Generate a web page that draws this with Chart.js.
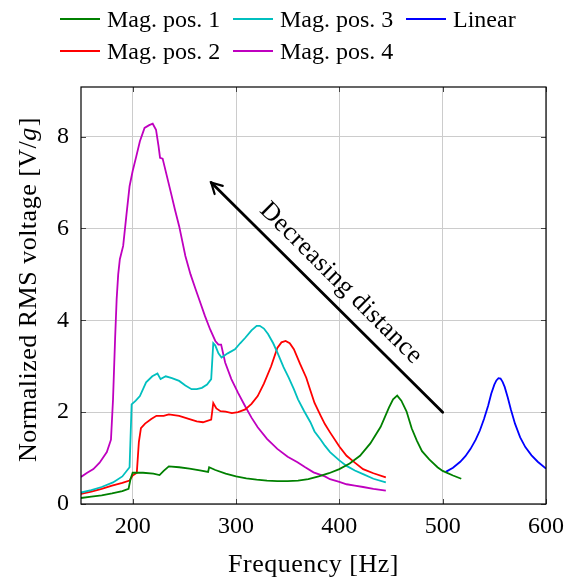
<!DOCTYPE html>
<html>
<head>
<meta charset="utf-8">
<script src="https://cdn.jsdelivr.net/npm/chart.js@4.4.1/dist/chart.umd.min.js"></script>
<style>
  html, body { margin: 0; padding: 0; background: #fff; }
  #wrap { position: relative; width: 572px; height: 579px; }
  #legend {
    position: absolute; left: 60px; top: 3px;
    display: grid; grid-template-columns: 173px 173px 140px; grid-auto-rows: 32px;
    font-family: 'Liberation Serif', serif; font-size: 24px; color: #000;
  }
  .item { display: flex; align-items: center; white-space: pre; }
  .swatch { width: 40px; height: 2px; margin-right: 7px; }
</style>
</head>
<body>
<div id="wrap">
  <canvas id="chart" width="572" height="579"></canvas>
  <div id="legend"></div>
</div>
<script>
// frequency axis ticks and value axis ticks
const xTicks = [200, 300, 400, 500, 600];
const yTicks = [0, 2, 4, 6, 8];

// Mag. pos. 1
const pos1Freq = [150, 160, 170, 180, 190, 196, 198, 200, 210, 220, 226, 230, 235, 245, 255, 265, 273, 274, 280, 290, 300, 310, 320, 330, 340, 350, 360, 370, 380, 390, 400, 410, 420, 430, 440, 448, 452, 456, 460, 465, 470, 475, 480, 487, 495, 500, 510, 518];
const pos1Val = [0.13, 0.16, 0.19, 0.23, 0.28, 0.33, 0.55, 0.68, 0.68, 0.66, 0.63, 0.72, 0.82, 0.80, 0.77, 0.73, 0.70, 0.80, 0.74, 0.66, 0.60, 0.56, 0.53, 0.51, 0.50, 0.50, 0.51, 0.54, 0.60, 0.67, 0.76, 0.88, 1.05, 1.32, 1.68, 2.10, 2.28, 2.36, 2.25, 2.02, 1.65, 1.38, 1.15, 0.97, 0.80, 0.72, 0.62, 0.55];

// Mag. pos. 2
const pos2Freq = [150, 160, 170, 180, 190, 197, 200, 204, 206, 208, 212, 218, 223, 230, 235, 245, 255, 262, 268, 276, 278, 281, 285, 290, 296, 302, 309, 315, 321, 327, 334, 340, 344, 348, 352, 356, 362, 368, 372, 376, 382, 386, 391, 400, 407, 415, 423, 433, 445];
const pos2Val = [0.22, 0.27, 0.33, 0.40, 0.46, 0.51, 0.62, 0.68, 1.35, 1.65, 1.75, 1.85, 1.92, 1.92, 1.95, 1.92, 1.85, 1.80, 1.78, 1.84, 2.20, 2.08, 2.02, 2.01, 1.98, 2.00, 2.06, 2.18, 2.35, 2.62, 3.00, 3.40, 3.52, 3.55, 3.50, 3.37, 3.05, 2.75, 2.47, 2.20, 1.92, 1.74, 1.56, 1.25, 1.05, 0.90, 0.76, 0.67, 0.58];

// Mag. pos. 3
const pos3Freq = [150, 160, 170, 181, 190, 197, 199, 203, 207, 213, 219, 224, 227, 232, 238, 245, 251, 257, 262, 267, 272, 276, 278, 280, 283, 286, 292, 299, 304, 309, 315, 320, 323, 327, 331, 336, 340, 346, 351, 356, 360, 366, 372, 376, 382, 386, 391, 400, 407, 415, 423, 433, 445];
const pos3Val = [0.25, 0.30, 0.37, 0.47, 0.60, 0.80, 2.17, 2.25, 2.35, 2.65, 2.78, 2.84, 2.72, 2.78, 2.74, 2.68, 2.58, 2.50, 2.50, 2.53, 2.60, 2.72, 3.50, 3.45, 3.28, 3.19, 3.28, 3.37, 3.50, 3.62, 3.78, 3.88, 3.88, 3.82, 3.70, 3.50, 3.30, 2.98, 2.75, 2.50, 2.28, 2.02, 1.78, 1.58, 1.40, 1.27, 1.13, 0.95, 0.83, 0.73, 0.65, 0.55, 0.47];

// Mag. pos. 4
const pos4Freq = [150, 156, 162, 168, 175, 179, 181, 183, 184.5, 186, 187.6, 190.8, 194, 197, 200, 203.5, 207, 211.5, 216, 219.4, 222.6, 225, 226.5, 229, 233, 237, 241, 245, 251, 256, 261, 266, 270, 275, 280, 283, 285.6, 289.5, 295.5, 302, 308.6, 315, 321, 330, 340, 350, 359.5, 367, 375, 386, 391, 400, 407, 415, 423, 433, 445];
const pos4Val = [0.59, 0.68, 0.76, 0.90, 1.13, 1.40, 2.28, 3.60, 4.46, 5.00, 5.33, 5.62, 6.30, 6.92, 7.25, 7.57, 7.90, 8.19, 8.25, 8.28, 8.15, 7.80, 7.54, 7.52, 7.15, 6.78, 6.40, 6.05, 5.40, 5.00, 4.67, 4.35, 4.09, 3.80, 3.55, 3.47, 3.47, 3.08, 2.72, 2.42, 2.14, 1.88, 1.67, 1.42, 1.20, 1.03, 0.91, 0.80, 0.69, 0.60, 0.54, 0.48, 0.43, 0.40, 0.37, 0.33, 0.29];

// Linear harvester
const linFreq = [503, 510, 517, 522, 527, 532, 536, 540, 544, 547, 550, 552, 554, 556, 558, 560, 563, 566, 570, 575, 580, 586, 592, 600];
const linVal = [0.70, 0.79, 0.92, 1.04, 1.20, 1.40, 1.60, 1.85, 2.14, 2.40, 2.60, 2.69, 2.74, 2.73, 2.66, 2.55, 2.32, 2.06, 1.75, 1.45, 1.24, 1.06, 0.92, 0.77];

// arrow annotation (tail -> head, in data units)
const arrowFrom = [500, 2.0];
const arrowTo = [276, 7.0];
const arrowText = 'Decreasing distance';

const FONT = "'Liberation Serif', serif";

const series = [
  { label: 'Mag. pos. 1', f: pos1Freq, v: pos1Val, color: '#008000' },
  { label: 'Mag. pos. 3', f: pos3Freq, v: pos3Val, color: '#00bfbf' },
  { label: 'Linear', f: linFreq, v: linVal, color: '#0000ff' },
  { label: 'Mag. pos. 2', f: pos2Freq, v: pos2Val, color: '#ff0000' },
  { label: 'Mag. pos. 4', f: pos4Freq, v: pos4Val, color: '#bf00bf' }
];

// html legend, 3 columns like the pgfplots one
const legendEl = document.getElementById('legend');
series.forEach(s => {
  const it = document.createElement('div');
  it.className = 'item';
  it.innerHTML = `<span class="swatch" style="background:${s.color}"></span><span>${s.label}</span>`;
  legendEl.appendChild(it);
});

const datasets = series.map(s => ({
  label: s.label,
  data: s.f.map((x, i) => ({ x, y: s.v[i] })),
  borderColor: s.color,
  borderWidth: 1.8,
  pointRadius: 0,
  tension: 0,
  fill: false
}));

const extras = {
  id: 'extras',
  afterDraw(chart) {
    const { ctx, chartArea: a, scales: { x, y } } = chart;
    ctx.save();
    // inward tick marks on all four sides
    ctx.strokeStyle = '#444';
    ctx.lineWidth = 1;
    ctx.beginPath();
    xTicks.forEach(v => {
      const px = Math.round(x.getPixelForValue(v)) + 0.5;
      ctx.moveTo(px, a.bottom); ctx.lineTo(px, a.bottom - 5);
      ctx.moveTo(px, a.top); ctx.lineTo(px, a.top + 5);
    });
    yTicks.forEach(v => {
      const py = Math.round(y.getPixelForValue(v)) + 0.5;
      ctx.moveTo(a.left, py); ctx.lineTo(a.left + 5, py);
      ctx.moveTo(a.right, py); ctx.lineTo(a.right - 5, py);
    });
    ctx.stroke();
    // axis box
    ctx.strokeStyle = '#000';
    ctx.lineWidth = 1.2;
    ctx.strokeRect(a.left, a.top, a.right - a.left, a.bottom - a.top);

    // arrow
    const x0 = x.getPixelForValue(arrowFrom[0]), y0 = y.getPixelForValue(arrowFrom[1]);
    const x1 = x.getPixelForValue(arrowTo[0]), y1 = y.getPixelForValue(arrowTo[1]);
    const ang = Math.atan2(y1 - y0, x1 - x0);
    ctx.strokeStyle = '#000';
    ctx.lineWidth = 2.8;
    ctx.lineCap = 'round';
    ctx.beginPath();
    ctx.moveTo(x0, y0); ctx.lineTo(x1, y1);
    ctx.stroke();
    ctx.lineWidth = 2.2;
    ctx.beginPath();
    ctx.moveTo(x1 - 12 * Math.cos(ang - 0.5), y1 - 12 * Math.sin(ang - 0.5));
    ctx.lineTo(x1, y1);
    ctx.lineTo(x1 - 12 * Math.cos(ang + 0.5), y1 - 12 * Math.sin(ang + 0.5));
    ctx.stroke();

    // label along the arrow
    const mx = (x0 + x1) / 2, my = (y0 + y1) / 2;
    const t = Math.atan2(y0 - y1, x0 - x1);
    ctx.translate(mx + 13 * Math.sin(t), my - 13 * Math.cos(t));
    ctx.rotate(t);
    ctx.fillStyle = '#000';
    ctx.font = `26px ${FONT}`;
    ctx.letterSpacing = '0.5px';
    ctx.textAlign = 'center';
    ctx.textBaseline = 'alphabetic';
    ctx.fillText(arrowText, 0, 0);
    ctx.restore();

    // axis titles
    ctx.save();
    ctx.fillStyle = '#000';
    ctx.font = `26px ${FONT}`;
    ctx.textAlign = 'center';
    ctx.textBaseline = 'alphabetic';
    ctx.letterSpacing = '0.5px';
    ctx.fillText('Frequency [Hz]', (a.left + a.right) / 2, 572);

    ctx.translate(36, 290);
    ctx.rotate(-Math.PI / 2);
    const p1 = 'Normalized RMS voltage [V/', p2 = 'g', p3 = ']';
    ctx.font = `26px ${FONT}`;
    const w1 = ctx.measureText(p1).width, w3 = ctx.measureText(p3).width;
    ctx.font = `italic 26px ${FONT}`;
    const w2 = ctx.measureText(p2).width;
    let sx = -(w1 + w2 + w3) / 2;
    ctx.textAlign = 'left';
    ctx.font = `26px ${FONT}`;
    ctx.fillText(p1, sx, 0);
    ctx.font = `italic 26px ${FONT}`;
    ctx.fillText(p2, sx + w1, 0);
    ctx.font = `26px ${FONT}`;
    ctx.fillText(p3, sx + w1 + w2 + 1, 0);
    ctx.restore();
  }
};

Chart.defaults.font.family = FONT;
Chart.defaults.font.size = 24;
Chart.defaults.color = '#000';

new Chart(document.getElementById('chart'), {
  type: 'line',
  data: { datasets },
  options: {
    responsive: false,
    animation: false,
    layout: { padding: { top: 87, right: 20, left: 0, bottom: 0 } },
    plugins: { legend: { display: false }, tooltip: { enabled: false } },
    scales: {
      x: {
        type: 'linear',
        min: 150,
        max: 600,
        afterBuildTicks: s => { s.ticks = xTicks.map(v => ({ value: v })); },
        afterFit: s => { s.height = 75; },
        grid: { color: '#cccccc', drawTicks: false },
        border: { display: false },
        ticks: { padding: 8, maxRotation: 0 }
      },
      y: {
        min: 0,
        max: 9.08,
        afterBuildTicks: s => { s.ticks = yTicks.map(v => ({ value: v })); },
        afterFit: s => { s.width = 81; },
        grid: { color: '#cccccc', drawTicks: false },
        border: { display: false },
        ticks: { padding: 12 }
      }
    }
  },
  plugins: [extras]
});
</script>
</body>
</html>
